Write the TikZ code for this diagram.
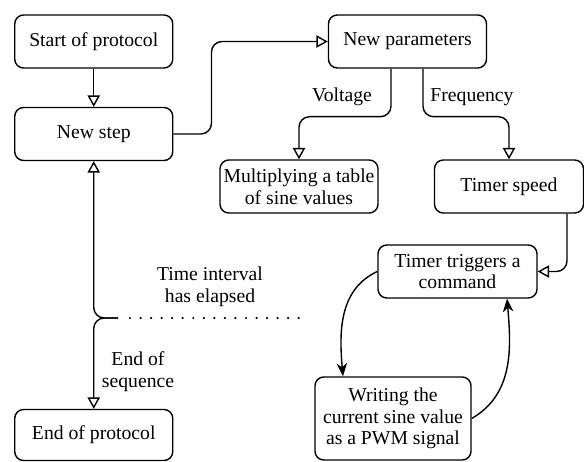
\documentclass[tikz,border=0pt]{standalone}
\usepackage{fontspec}
\setmainfont{Liberation Serif}
\usetikzlibrary{
    arrows.meta,
    calc,
    %positioning,
    %shapes,
}

\begin{document}
\begin{tikzpicture}[thick, font=\fontsize{11.2}{12.4}\selectfont,
    box/.style = {draw, rounded corners=5pt, align=center, minimum width=3.16cm, minimum height=1.06cm, inner sep=2pt},
    flow/.style = {-{Triangle[open, length=6.5pt, width=7pt]}, rounded corners=6pt},
    loop/.style = {-{Stealth[length=7.5pt, width=6pt]}},
    lbl/.style = {align=center, inner sep=1pt}]
    \useasboundingbox (0,0) rectangle (11.68,-9.24);
    \node[box] (start) at (1.875,-0.83) {Start of protocol};
    \node[box] (step) at (1.875,-2.68) {New step};
    \node[box, minimum height=1.02cm] (endp) at (1.875,-8.70) {End of protocol};
    \node[box] (params) at (8.15,-0.83) {New parameters};
    \node[box] (mult) at (5.98,-3.73) {Multiplying a table\\of sine values};
    \node[box, minimum width=2.98cm] (speed) at (10.18,-3.73) {Timer speed};
    \node[box, minimum width=3.18cm] (trig) at (9.15,-5.43) {Timer triggers a\\command};
    \node[box, minimum width=3.12cm, minimum height=1.66cm] (write) at (7.86,-8.37) {Writing the\\current sine value\\as a PWM signal};
    \coordinate (fork) at (2.36,-6.36);
    \coordinate (dotend) at (6.0,-6.36);
    \node[lbl] (volt) at (6.84,-1.94) {Voltage};
    \node[lbl] (freq) at (9.44,-1.94) {Frequency};
    \node[lbl] (elapsed) at (4.2,-5.74) {Time interval\\has elapsed};
    \node[lbl] (seqend) at (2.76,-7.44) {End of\\sequence};
    \draw[flow] (start.south) -- (step.north);
    \draw[flow] (step.east) -- ++(0.76,0) |- (params.west);
    \draw[flow] ([xshift=-3.3mm]params.south) -- ++(0,-0.96) -| (mult.north);
    \draw[flow] ([xshift=3.1mm]params.south) -- ++(0,-0.96) -| (speed.north);
    \draw[flow] ([xshift=11.6mm]speed.south) |- (trig.east);
    \draw[flow] (fork) -| (step.south);
    \draw[flow] (fork) -| (endp.north);
    \draw[dash pattern=on 0pt off 6pt, line cap=round, line width=1.4pt] ([xshift=2.4mm]fork) -- (dotend);
    \draw[loop] (trig.west) to[out=205, in=95] ([xshift=-10mm]write.north);
    \draw[loop] (write.east) to[out=30, in=-85] ([xshift=9.9mm]trig.south);
\end{tikzpicture}
\end{document}
